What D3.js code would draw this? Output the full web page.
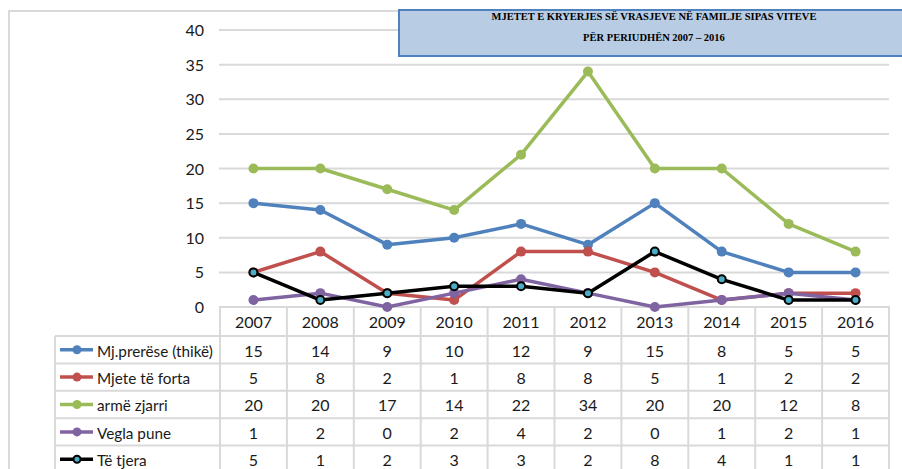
<!DOCTYPE html>
<html>
<head>
<meta charset="utf-8">
<script src="https://cdn.jsdelivr.net/npm/d3@7"></script>
<style>
body { margin: 0; background: #fff; }
text { font-family: Lato, Carlito, "Liberation Sans", sans-serif; }
</style>
</head>
<body>
<script>
var years = ['2007', '2008', '2009', '2010', '2011', '2012', '2013', '2014', '2015', '2016'],
    seriesNames = ['Mj.prerëse (thikë)', 'Mjete të forta', 'armë zjarri', 'Vegla pune', 'Të tjera'],
    knives = [15, 14, 9, 10, 12, 9, 15, 8, 5, 5],
    blunt = [5, 8, 2, 1, 8, 8, 5, 1, 2, 2],
    firearms = [20, 20, 17, 14, 22, 34, 20, 20, 12, 8],
    tools = [1, 2, 0, 2, 4, 2, 0, 1, 2, 1],
    other = [5, 1, 2, 3, 3, 2, 8, 4, 1, 1],
    yTicks = [0, 5, 10, 15, 20, 25, 30, 35, 40],
    titleLines = ['MJETET E KRYERJES SË VRASJEVE  NË  FAMILJE SIPAS VITEVE', 'PËR PERIUDHËN 2007 – 2016'];

var colors = ['#4f81bd', '#c0504d', '#9bbb59', '#8064a2', '#000000'],
    allSeries = [knives, blunt, firearms, tools, other];

var width = 902, height = 469, x, y, svg, line, grid;
var plot = {left: 220, right: 889, top: 30, bottom: 307};
var rowH = 27.4, legendLeft = 55;

svg = d3.select("body").append("svg").attr("width", width).attr("height", height);

// outer frame
svg.append("path").attr("d", "M9,469 V11 H400").attr("fill", "none")
    .attr("stroke", "#d9d9d9").attr("stroke-width", 2);

x = d3.scaleBand().domain(years).range([plot.left, plot.right]);
y = d3.scaleLinear().domain([0, 40]).range([plot.bottom, plot.top]);

// gridlines
grid = svg.append("g");
grid.selectAll("line").data(yTicks.slice(1)).enter().append("line")
    .attr("x1", plot.left - 1).attr("x2", plot.right)
    .attr("y1", function (d) { return y(d); }).attr("y2", function (d) { return y(d); })
    .attr("stroke", "#d9d9d9").attr("stroke-width", 2);

// y axis labels
svg.append("g").selectAll("text").data(yTicks).enter().append("text")
    .attr("x", 204).attr("y", function (d) { return y(d) + 6; })
    .attr("text-anchor", "end").attr("font-size", 16).attr("fill", "#1a1a1a")
    .text(function (d) { return d; });

// table grid
var tbl = svg.append("g").attr("stroke", "#d9d9d9").attr("stroke-width", 2);
var rowYs = [plot.bottom];
for (var r = 0; r <= seriesNames.length; r++) rowYs.push(plot.bottom + 29 + r * rowH);
tbl.append("line").attr("x1", plot.left - 1).attr("x2", plot.right + 1)
    .attr("y1", plot.bottom).attr("y2", plot.bottom);
rowYs.slice(1).forEach(function (ry) {
  tbl.append("line").attr("x1", legendLeft).attr("x2", plot.right + 1).attr("y1", ry).attr("y2", ry);
});
years.concat(['end']).forEach(function (yr, i) {
  var xx = i < years.length ? x(yr) : plot.right;
  tbl.append("line").attr("x1", xx).attr("x2", xx).attr("y1", plot.bottom).attr("y2", height);
});
tbl.append("line").attr("x1", legendLeft).attr("x2", legendLeft).attr("y1", rowYs[1]).attr("y2", height);

// year header
svg.append("g").selectAll("text").data(years).enter().append("text")
    .attr("x", function (d) { return x(d) + x.bandwidth() / 2; })
    .attr("y", plot.bottom + 21).attr("text-anchor", "middle").attr("font-size", 16).attr("fill", "#1a1a1a")
    .text(function (d) { return d; });

// value rows + legend
allSeries.forEach(function (vals, s) {
  var cy = rowYs[s + 1] + 20.5;
  svg.append("g").selectAll("text").data(vals).enter().append("text")
      .attr("x", function (d, i) { return x(years[i]) + x.bandwidth() / 2; })
      .attr("y", cy).attr("text-anchor", "middle").attr("font-size", 16).attr("fill", "#1a1a1a")
      .text(function (d) { return d; });
  var ly = rowYs[s + 1] + rowH / 2;
  svg.append("line").attr("x1", 60).attr("x2", 93).attr("y1", ly).attr("y2", ly)
      .attr("stroke", colors[s]).attr("stroke-width", 3.5);
  svg.append("circle").attr("cx", 77).attr("cy", ly).attr("r", s === 4 ? 3.5 : 4.5)
      .attr("fill", s === 4 ? '#4bacc6' : colors[s])
      .attr("stroke", s === 4 ? '#000' : 'none').attr("stroke-width", 2);
  svg.append("text").attr("x", 97).attr("y", cy).attr("font-size", 15.3).attr("fill", "#1a1a1a")
      .text(seriesNames[s]);
});

// lines
line = d3.line()
    .x(function (d, i) { return x(years[i]) + x.bandwidth() / 2; })
    .y(function (d) { return y(d); });

allSeries.forEach(function (vals, s) {
  var g = svg.append("g");
  g.append("path").attr("d", line(vals)).attr("fill", "none")
      .attr("stroke", colors[s]).attr("stroke-width", 3.5).attr("stroke-linejoin", "round");
  g.selectAll("circle").data(vals).enter().append("circle")
      .attr("cx", function (d, i) { return x(years[i]) + x.bandwidth() / 2; })
      .attr("cy", function (d) { return y(d); })
      .attr("r", s === 4 ? 4 : 5)
      .attr("fill", s === 4 ? '#4bacc6' : colors[s])
      .attr("stroke", s === 4 ? '#000' : 'none').attr("stroke-width", 2);
});

// title box
svg.append("rect").attr("x", 399).attr("y", 10).attr("width", 510).attr("height", 46)
    .attr("fill", "#b8cce4").attr("stroke", "#4f81bd").attr("stroke-width", 2);
svg.append("g").selectAll("text").data(titleLines).enter().append("text")
    .attr("x", 654).attr("y", function (d, i) { return 19.5 + i * 21; })
    .attr("text-anchor", "middle").attr("font-size", 10.5).attr("font-weight", "bold")
    .style("font-family", "'Liberation Serif', 'DejaVu Serif', serif")
    .text(function (d) { return d; });
</script>
</body>
</html>
